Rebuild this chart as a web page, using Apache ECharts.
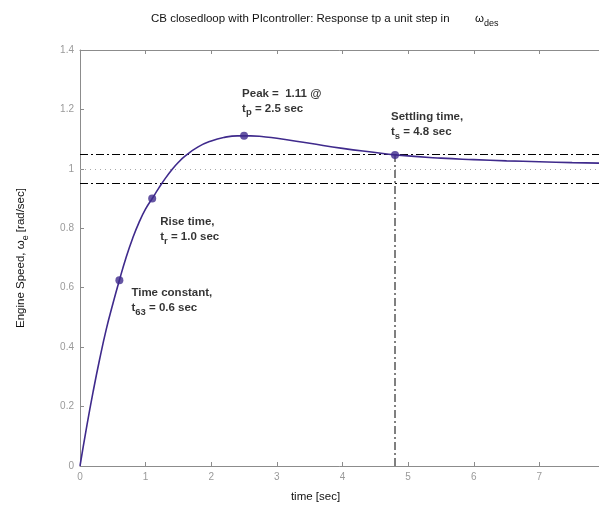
<!DOCTYPE html>
<html><head><meta charset="utf-8">
<script src="https://cdn.jsdelivr.net/npm/echarts@6/dist/echarts.min.js"></script>
<style>html,body{margin:0;padding:0;background:#fff;overflow:hidden}#c{width:599px;height:507px}</style>
</head><body><div id="c"></div>
<script>
// Response curve
const time  = [0, 0.1, 0.2, 0.3, 0.4, 0.5, 0.6, 0.7, 0.8, 0.9, 1.0, 1.1, 1.2, 1.3, 1.4, 1.5, 1.6, 1.8, 2.0, 2.2, 2.4, 2.6, 2.8, 3.0, 3.5, 4.0, 4.5, 4.8, 5.5, 6.0, 6.5, 7.0, 7.5, 8.0];
const speed = [0, 0.13, 0.25, 0.36, 0.46, 0.545, 0.625, 0.70, 0.765, 0.82, 0.865, 0.90, 0.935, 0.968, 0.997, 1.022, 1.043, 1.074, 1.094, 1.106, 1.111, 1.111, 1.108, 1.103, 1.086, 1.069, 1.055, 1.047, 1.036, 1.031, 1.027, 1.024, 1.021, 1.019];
// Marked points
const markTimes  = [0.6, 1.1, 2.5, 4.8];
const markValues = [0.625, 0.90, 1.111, 1.047];
const markTexts = [
  '{b|Time constant,}\n{b|t}{s|63}{b| = 0.6 sec}',
  '{b|Rise time,}\n{b|t}{s|r}{b| = 1.0 sec}',
  '{b|Peak =  1.11 @}\n{b|t}{s|p}{b| = 2.5 sec}',
  '{b|Settling time,}\n{b|t}{s|s}{b| = 4.8 sec}'
];
const labelOffsets = [[16, 9], [12, 20], [2, -46], [0, -42]];
// Reference lines
const bandHigh = 1.05, bandLow = 0.95, finalValue = 1.0;
const settleTime = 4.8;
const xTicks = [0, 1, 2, 3, 4, 5, 6, 7, 8];
const yTicks = [0, 0.2, 0.4, 0.6, 0.8, 1.0, 1.2, 1.4];

const FONT = 'Liberation Sans, Arial, Helvetica, sans-serif';
const rich = {
  b: {fontFamily: FONT, fontSize: 11.5, fontWeight: 'bold', color: '#000', lineHeight: 15},
  s: {fontFamily: FONT, fontSize: 9.5, fontWeight: 'bold', color: '#000', padding: [9, 0, 0, 0], lineHeight: 15}
};
const curve = time.map((t, i) => [t, speed[i]]);
const marks = markTimes.map((t, i) => ({
  value: [t, markValues[i]],
  label: {show: true, formatter: markTexts[i], position: labelOffsets[i], align: 'left', verticalAlign: 'top', rich: rich}
}));
const axisGray = '#8c8c8c';
const dashDot = [8, 3, 2, 3];

const chart = echarts.init(document.getElementById('c'), null, {renderer: 'canvas', width: 599, height: 507});
chart.setOption({
  animation: false,
  backgroundColor: '#fff',
  title: {
    text: 'CB closedloop with PIcontroller: Response tp a unit step in        {w|ω}{s|des}',
    left: 146, top: 6,
    textStyle: {
      fontFamily: FONT, fontSize: 11.5, fontWeight: 'normal', color: '#111',
      rich: {
        w: {fontFamily: FONT, fontSize: 11.5, color: '#111', lineHeight: 16},
        s: {fontFamily: FONT, fontSize: 9, color: '#111', padding: [10, 0, 0, 0], lineHeight: 16}
      }
    }
  },
  grid: {left: 80, top: 50, width: 525, height: 416, containLabel: false, outerBoundsMode: 'none'},
  xAxis: [{
    type: 'value', min: xTicks[0], max: xTicks[xTicks.length - 1], interval: 1,
    name: 'time [sec]', nameLocation: 'middle', nameGap: 25,
    nameTextStyle: {fontFamily: FONT, fontSize: 11.5, color: '#111', padding: [0, 54, 0, 0]},
    axisLine: {lineStyle: {color: axisGray, width: 1}},
    axisTick: {inside: true, length: 4, lineStyle: {color: axisGray}},
    axisLabel: {fontFamily: FONT, fontSize: 10, color: '#9a9a9a', margin: 6},
    splitLine: {show: false}
  }, {
    type: 'value', position: 'top', min: xTicks[0], max: xTicks[xTicks.length - 1], interval: 1,
    axisLine: {show: true, lineStyle: {color: axisGray, width: 1}},
    axisTick: {inside: true, length: 4, lineStyle: {color: axisGray}},
    axisLabel: {show: false}, splitLine: {show: false}
  }],
  yAxis: {
    type: 'value', min: yTicks[0], max: yTicks[yTicks.length - 1], interval: 0.2,
    name: 'Engine Speed, ω{s|e} [rad/sec]', nameLocation: 'middle', nameGap: 50,
    nameTextStyle: {fontFamily: FONT, fontSize: 11.5, color: '#111',
      rich: {s: {fontFamily: FONT, fontSize: 9, color: '#111', padding: [9, 0, 0, 0]}}},
    axisLine: {show: true, lineStyle: {color: axisGray, width: 1}},
    axisTick: {show: true, inside: true, length: 4, lineStyle: {color: axisGray}},
    axisLabel: {fontFamily: FONT, fontSize: 10, color: '#9a9a9a', margin: 6,
      formatter: v => (Math.round(v * 10) / 10).toString()},
    splitLine: {show: false}
  },
  series: [{
    type: 'line', data: curve, smooth: 0.5, showSymbol: false,
    lineStyle: {color: '#3f2a8c', width: 1.6}, z: 5,
    markLine: {
      silent: true, symbol: 'none', label: {show: false},
      data: [
        {yAxis: bandHigh, lineStyle: {color: '#000', width: 1, type: dashDot}},
        {yAxis: bandLow, lineStyle: {color: '#000', width: 1, type: dashDot}},
        {yAxis: finalValue, lineStyle: {color: '#aaa', width: 1, type: [1, 4]}}
      ]
    }
  }, {
    type: 'line', data: [[settleTime, 0], [settleTime, bandHigh]], showSymbol: false,
    lineStyle: {color: '#000', width: 1, type: dashDot}, z: 4
  }, {
    type: 'scatter', data: marks, symbol: 'circle', symbolSize: 8,
    itemStyle: {color: '#3f2a8c'}, z: 6
  }]
});
</script></body></html>
